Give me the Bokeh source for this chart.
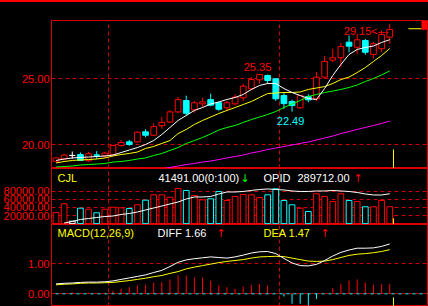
from bokeh.plotting import figure
from bokeh.layouts import column
from bokeh.models import Range1d, FixedTicker, NumeralTickFormatter, Label, Span, ColumnDataSource, Div
from bokeh.embed import file_html
from bokeh.resources import INLINE

# ---------------- data ----------------
title_text = "糖11号03(NYBOT-R 3783)日线"

opens = [18.73, 18.90, 19.17, 19.24, 18.77, 19.21, 19.15, 19.24, 19.92, 20.20,
         20.20, 20.96, 20.70, 21.42, 21.70, 22.47, 23.33, 22.63, 23.08, 23.40,
         23.16, 22.78, 23.08, 23.54, 24.22, 24.90, 25.23, 24.98, 23.71, 23.26,
         22.78, 23.63, 23.46, 25.10, 26.39, 26.57, 27.75, 27.37, 27.88, 26.82,
         27.25, 28.13]
highs = [19.00, 19.30, 19.47, 19.40, 19.45, 19.50, 19.45, 19.98, 20.35, 20.35,
         21.00, 21.15, 21.60, 22.10, 22.60, 23.60, 23.70, 23.30, 23.55, 23.85,
         23.25, 23.30, 23.80, 24.60, 25.10, 25.35, 25.30, 25.00, 23.90, 23.40,
         23.75, 23.80, 25.50, 26.70, 27.25, 27.70, 28.26, 28.30, 28.00, 27.75,
         28.64, 29.15]
lows = [18.68, 18.78, 18.92, 18.75, 18.70, 18.90, 19.00, 19.20, 19.85, 19.90,
        20.15, 20.55, 20.65, 21.20, 21.65, 22.40, 22.20, 22.40, 22.85, 22.90,
        22.55, 22.55, 22.95, 23.30, 24.10, 24.60, 24.60, 23.30, 22.70, 22.49,
        22.70, 23.20, 23.30, 24.98, 26.24, 25.86, 26.99, 26.84, 26.80, 26.50,
        26.99, 27.63]
closes = [18.99, 19.20, 19.17, 18.79, 19.30, 19.19, 19.35, 19.92, 20.15, 20.00,
          20.93, 20.70, 21.36, 21.67, 22.47, 23.40, 22.37, 23.16, 23.23, 22.98,
          22.67, 23.16, 23.59, 24.42, 24.92, 25.30, 24.85, 23.46, 23.10, 22.95,
          23.71, 23.38, 25.10, 26.29, 26.57, 27.42, 27.45, 27.93, 26.99, 27.63,
          28.33, 28.71]

ma5 = [18.79, 18.90, 18.98, 19.02, 19.05, 19.09, 19.13, 19.20, 19.39, 19.58,
       19.77, 20.00, 20.30, 20.76, 21.29, 21.82, 22.20, 22.58, 22.80, 23.07,
       23.22, 23.41, 23.56, 23.79, 24.17, 24.47, 24.62, 24.62, 24.24, 23.94,
       23.71, 23.48, 23.41, 24.24, 25.23, 26.06, 26.82, 27.20, 27.35, 27.46,
       27.73, 27.94]
ma10 = [18.60, 18.71, 18.79, 18.83, 18.86, 18.90, 18.98, 19.13, 19.24, 19.32,
        19.43, 19.70, 19.85, 20.08, 20.30, 20.83, 21.14, 21.52, 21.82, 22.08,
        22.35, 22.58, 22.80, 23.03, 23.26, 23.56, 23.86, 23.90, 23.94, 23.94,
        23.98, 24.17, 24.28, 24.39, 24.62, 24.92, 25.11, 25.45, 25.83, 26.29,
        26.74, 27.27]
ma20 = [18.30, 18.33, 18.37, 18.45, 18.48, 18.52, 18.56, 18.67, 18.71, 18.79,
        18.90, 18.98, 19.17, 19.32, 19.55, 19.77, 20.08, 20.30, 20.53, 20.80,
        21.10, 21.29, 21.44, 21.67, 21.89, 22.08, 22.27, 22.50, 22.80, 23.07,
        23.33, 23.64, 23.79, 23.94, 24.05, 24.17, 24.32, 24.51, 24.77, 25.00,
        25.27, 25.57]
NA = float("nan")
ma60 = [NA] * 13 + [18.14, 18.26, 18.37, 18.48, 18.56, 18.67, 18.75, 18.86,
                    18.98, 19.09, 19.20, 19.36, 19.47, 19.62, 19.73, 19.85, 19.96,
                    20.08, 20.19, 20.34, 20.49, 20.64, 20.83, 20.98, 21.14, 21.29,
                    21.44, 21.59, 21.78]

volume = [27400, 48900, 6000, 38000, 35600, 26700, 35600, 40500, 39000, 37300,
          46400, 57800, 71100, 71100, 65200, 86700, 81700, 69400, 58800, 61200,
          79300, 57000, 66900, 71800, 71100, 64400, 71100, 85900, 57000, 46400,
          38000, 29900, 73600, 66900, 54600, 73600, 57000, 54600, 41500, 41500,
          57000, 41491]
open_interest = [NA, 201500, 206030, 212070, 215090, 218110, 221140, 222650, 227180, 230200,
                 234730, 240770, 246810, 252860, 258900, 264940, 274000, 280050, 280050, 281560,
                 289110, 295150, 295150, 296660, 299680, 302700, 304210, 302700, 301190, 298170,
                 296660, 296660, 298170, 298170, 299680, 298170, 296660, 293640, 289110, 286090,
                 286090, 289712]

diff = [0.33, 0.35, 0.36, 0.38, 0.39, 0.39, 0.40, 0.43, 0.48, 0.53,
        0.58, 0.63, 0.71, 0.78, 0.91, 1.05, 1.13, 1.17, 1.20, 1.23,
        1.21, 1.19, 1.23, 1.29, 1.36, 1.40, 1.41, 1.34, 1.18, 1.03,
        0.94, 0.93, 0.98, 1.11, 1.26, 1.38, 1.46, 1.52, 1.52, 1.53,
        1.58, 1.66]
dea = [0.30, 0.32, 0.33, 0.35, 0.36, 0.36, 0.37, 0.38, 0.41, 0.44,
       0.48, 0.52, 0.57, 0.61, 0.68, 0.74, 0.83, 0.89, 0.94, 0.99,
       1.04, 1.08, 1.11, 1.14, 1.19, 1.23, 1.24, 1.25, 1.24, 1.19,
       1.14, 1.09, 1.08, 1.09, 1.14, 1.21, 1.28, 1.32, 1.34, 1.37,
       1.41, 1.47]
macd_bar = [0.02, 0.03, 0.05, 0.02, 0.04, 0.03, 0.04, 0.10, 0.17, 0.22,
            0.28, 0.30, 0.37, 0.39, 0.48, 0.61, 0.61, 0.55, 0.55, 0.44,
            0.28, 0.22, 0.17, 0.24, 0.30, 0.33, 0.28, 0.01, -0.09, -0.33,
            -0.33, -0.39, -0.17, 0.02, 0.19, 0.33, 0.44, 0.48, 0.37, 0.30,
            0.33, 0.33]

price_ticks = [20, 25]
volume_ticks = [20000, 40000, 60000, 80000]
macd_ticks = [0, 1]
period_breaks = [6.5, 27.5]
hi_mark, lo_mark, last_mark = 25, 29, 41
today_marker = 41.46
last_price_marker = 28.77

# ---------------- style ----------------
RED = "#ff0000"
GRID = "#c80000"
BORDER = "#dd0000"
CYAN = "#00ffff"
YELLOW = "#ffff00"
WHITE = "#ffffff"
GREEN = "#00ff00"
MAGENTA = "#ff00ff"
BG = "#000000"
NUM_FONT = "Liberation Sans"
CJK_FONT = "Noto Sans CJK SC"
ARROW_FONT = "DejaVu Sans"
FS = "11px"
W = 428
LEFT = 51
RIGHT = 1
BODY_W = 0.7

n = len(closes)
idx = list(range(n))
x_range = Range1d(-0.553, 45.64)


def make_fig(height, y_range, top, ticks):
    p = figure(width=W, height=height, x_range=x_range, y_range=y_range, title=None,
               output_backend="svg", toolbar_location=None, x_axis_location=None,
               min_border_left=LEFT, min_border_right=RIGHT, min_border_top=top,
               min_border_bottom=0, background_fill_color=BG, border_fill_color=BG,
               outline_line_color=BORDER, outline_line_width=1)
    ax = p.yaxis[0]
    ax.ticker = FixedTicker(ticks=ticks)
    ax.formatter = NumeralTickFormatter(format="0.00")
    ax.major_label_text_color = RED
    ax.major_label_text_font = NUM_FONT
    ax.major_label_text_font_size = FS
    ax.axis_line_color = None
    ax.major_tick_line_color = None
    ax.minor_tick_line_color = None
    ax.major_tick_out = 0
    ax.major_tick_in = 0
    ax.minor_tick_out = 0
    ax.minor_tick_in = 0
    ax.major_label_standoff = 2
    p.ygrid.ticker = FixedTicker(ticks=ticks)
    p.ygrid.grid_line_color = GRID
    p.ygrid.grid_line_dash = "4 3"
    p.xgrid.ticker = FixedTicker(ticks=period_breaks)
    p.xgrid.grid_line_color = GRID
    p.xgrid.grid_line_dash = "4 3"
    return p


def put_text(p, frame_bottom, cx, cy, text, color, font=NUM_FONT, size=FS):
    p.add_layout(Label(x=cx - LEFT, y=frame_bottom - cy, x_units="screen", y_units="screen",
                       text=text, text_color=color, text_font=font, text_font_size=size,
                       text_baseline="middle", text_align="left"))


def dir_color(o, c):
    if c > o:
        return RED
    if c < o:
        return CYAN
    return WHITE


colors = [dir_color(o, c) for o, c in zip(opens, closes)]
fills = [CYAN if col == CYAN else BG for col in colors]

# ---------------- main price panel ----------------
p1 = make_fig(166, Range1d(18.182, 29.394), 18, price_ticks)
src = ColumnDataSource(dict(
    x=idx, high=highs, low=lows,
    top=[max(o, c) for o, c in zip(opens, closes)],
    bottom=[min(o, c) for o, c in zip(opens, closes)],
    color=colors, fill=fills,
))
p1.segment(x0="x", y0="low", x1="x", y1="high", line_color="color", line_width=1, source=src)
p1.vbar(x="x", top="top", bottom="bottom", width=BODY_W, fill_color="fill",
        line_color="color", line_width=1, source=src)
doji = [i for i in idx if opens[i] == closes[i]]
p1.segment(x0=[i - BODY_W / 2 for i in doji], y0=[closes[i] for i in doji],
           x1=[i + BODY_W / 2 for i in doji], y1=[closes[i] for i in doji],
           line_color=WHITE, line_width=1)
p1.line(idx, ma60, line_color=MAGENTA, line_width=1)
p1.line(idx, ma20, line_color=GREEN, line_width=1)
p1.line(idx, ma10, line_color=YELLOW, line_width=1)
p1.line(idx, ma5, line_color=WHITE, line_width=1)
p1.segment(x0=[today_marker], y0=[18.182], x1=[today_marker], y1=[19.62], line_color=YELLOW)
p1.segment(x0=[43.3], y0=[last_price_marker], x1=[44.9], y1=[last_price_marker], line_color=YELLOW)
p1.quad(left=[44.9], right=[45.64], bottom=[28.69], top=[29.35], fill_color=RED, line_color=None)

p1.add_layout(Label(x=hi_mark, y=highs[hi_mark], text=f"{highs[hi_mark]:.2f}", text_color=RED,
                    text_font=NUM_FONT, text_font_size=FS, text_align="center",
                    text_baseline="bottom", x_offset=-2, y_offset=3))
p1.add_layout(Label(x=lo_mark, y=lows[lo_mark], text=f"{lows[lo_mark]:.2f}", text_color=CYAN,
                    text_font=NUM_FONT, text_font_size=FS, text_align="center",
                    text_baseline="top", x_offset=-1.5, y_offset=-5))
p1.add_layout(Label(x=last_mark, y=highs[last_mark], text=f"{highs[last_mark]:.2f}<---",
                    text_color=RED, text_font=NUM_FONT, text_font_size=FS, text_align="right",
                    text_baseline="middle", x_offset=-1, y_offset=-7))

put_text(p1, 168, 6, 9, title_text, YELLOW, font=CJK_FONT)
put_text(p1, 168, 227, 12, f"MA5 {ma5[-1]:.2f}", WHITE)
put_text(p1, 168, 285, 12, "↑", RED, font=ARROW_FONT)
put_text(p1, 168, 319, 12, f"MA10 {ma10[-1]:.2f}", YELLOW)
put_text(p1, 168, 381, 12, "↑", RED, font=ARROW_FONT)

# ---------------- volume panel ----------------
p2 = make_fig(56, Range1d(-2200, 136000), 0, volume_ticks)
p2.extra_y_ranges = {"oi": Range1d(197000, 366000)}
vsrc = ColumnDataSource(dict(x=idx, vol=volume, color=colors))
p2.vbar(x="x", top="vol", bottom=0, width=BODY_W, fill_color=BG, line_color="color",
        line_width=1, source=vsrc)
p2.line(idx, open_interest, line_color=WHITE, line_width=1, y_range_name="oi")
p2.segment(x0=[today_marker], y0=[-2200], x1=[today_marker], y1=[13000], line_color=YELLOW)
put_text(p2, 224, 57, 177.5, "CJL", YELLOW)
put_text(p2, 224, 158, 177.5, f"{volume[-1]:.2f}(0:100)", WHITE)
put_text(p2, 224, 240, 177.5, "↓", GREEN, font=ARROW_FONT)
put_text(p2, 224, 263, 177.5, "OPID", WHITE)
put_text(p2, 224, 297, 177.5, f"{open_interest[-1]:.2f}", WHITE)
put_text(p2, 224, 353, 177.5, "↑", RED, font=ARROW_FONT)

# ---------------- MACD panel ----------------
p3 = make_fig(82, Range1d(-0.423, 2.31), 0, macd_ticks)
p3.add_layout(Span(location=0, dimension="width", line_color=CYAN, line_width=1,
                   line_dash="3 4", line_dash_offset=3))
mcol = [RED if v >= 0 else CYAN for v in macd_bar]
msrc = ColumnDataSource(dict(x=idx, v=macd_bar, color=mcol))
p3.segment(x0="x", y0=0, x1="x", y1="v", line_color="color", line_width=1, source=msrc)
p3.line(idx, dea, line_color=YELLOW, line_width=1)
p3.line(idx, diff, line_color=WHITE, line_width=1)
p3.segment(x0=[today_marker], y0=[-0.423], x1=[today_marker], y1=[-0.12], line_color=YELLOW)
put_text(p3, 306, 57, 232.5, "MACD(12,26,9)", YELLOW)
put_text(p3, 306, 157, 232.5, f"DIFF {diff[-1]:.2f}", WHITE)
put_text(p3, 306, 216, 232.5, "↑", RED, font=ARROW_FONT)
put_text(p3, 306, 263, 232.5, f"DEA {dea[-1]:.2f}", YELLOW)
put_text(p3, 306, 320, 232.5, "↑", RED, font=ARROW_FONT)

top_band = Div(text="", width=W, height=2, margin=(0, 0, 0, 0),
               styles={"background-color": RED})
layout = column(top_band, p1, p2, p3, spacing=0)
layout.styles = {"background-color": BG}

open("out.html", "w").write(file_html(layout, INLINE))
